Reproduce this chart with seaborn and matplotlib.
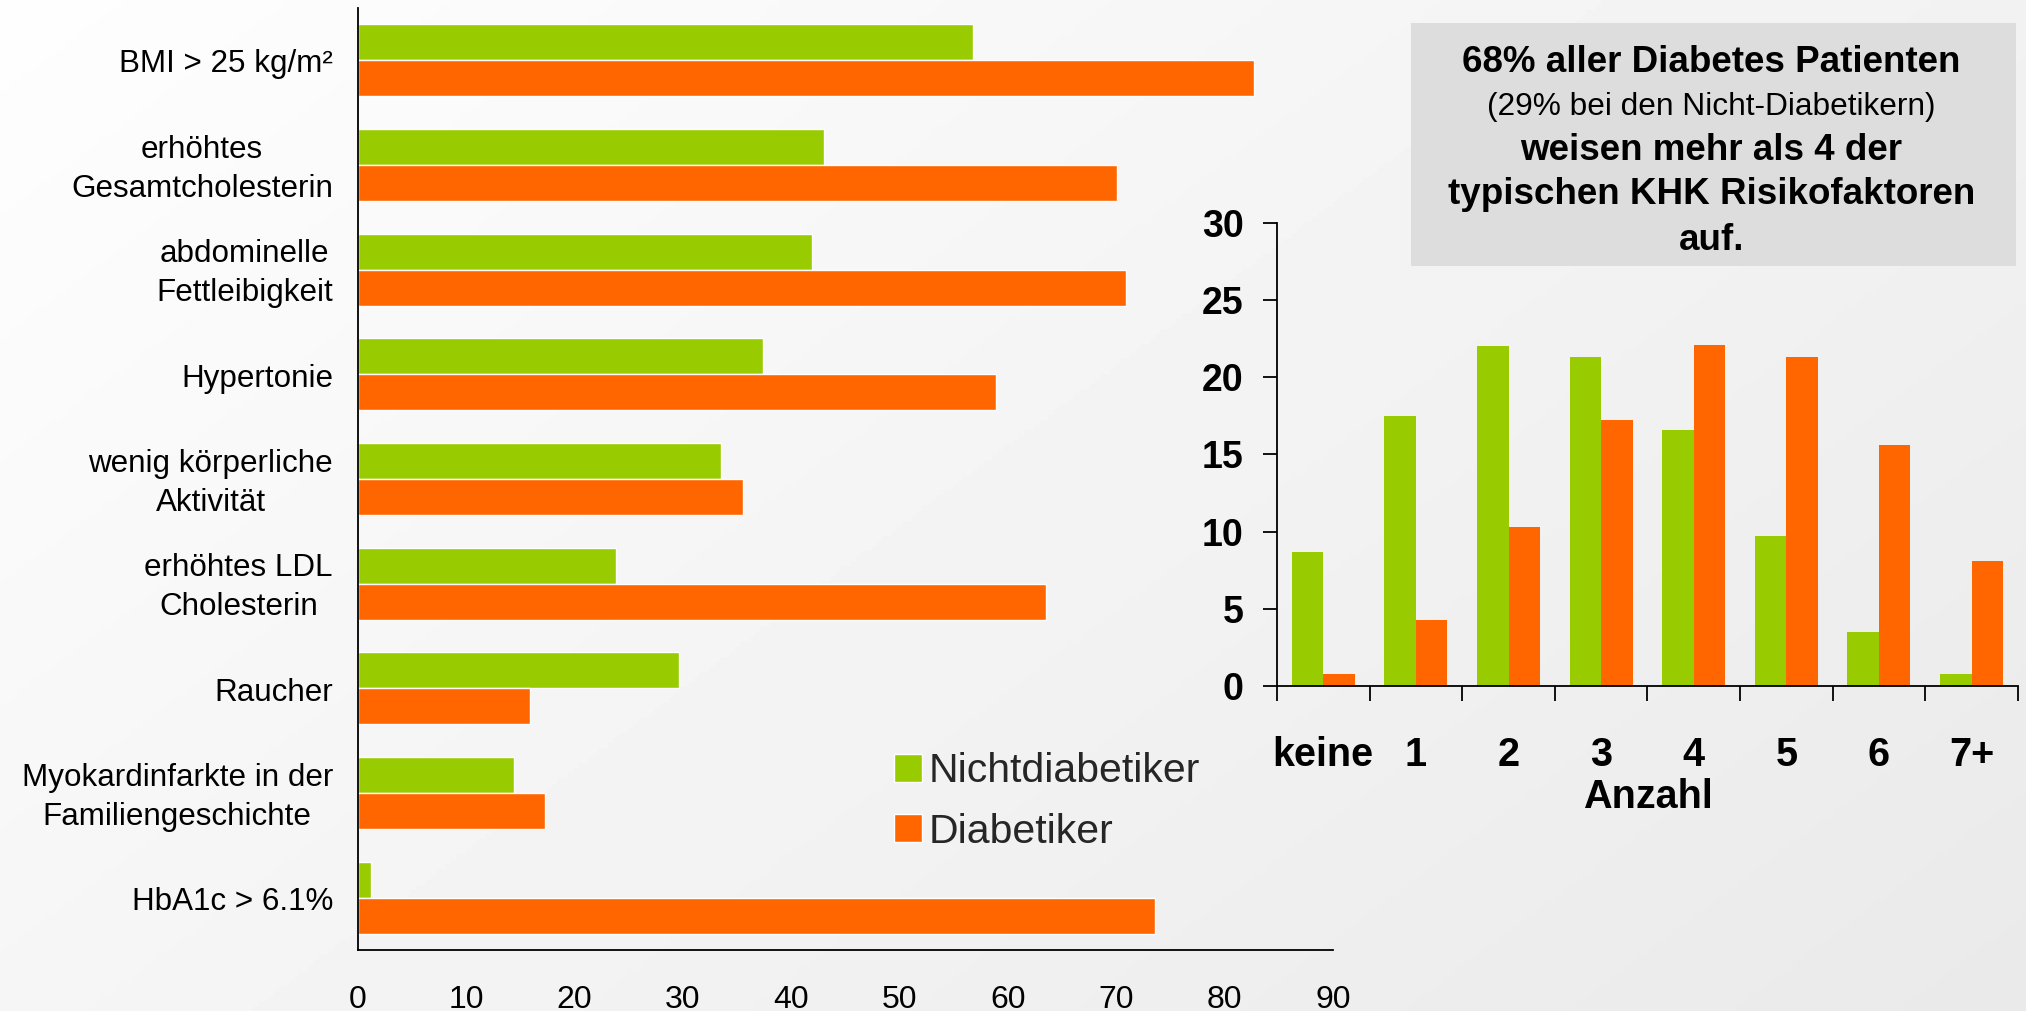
import matplotlib.pyplot as plt
import matplotlib.patches as mpatches
import matplotlib.transforms as mtransforms
import numpy as np
import pandas as pd
import seaborn as sns

sns.set_theme(style="white")
plt.rcParams["font.family"] = ["Liberation Sans", "DejaVu Sans"]

GREEN = "#99CC00"
ORANGE = "#FF6600"

groups = ["Nichtdiabetiker", "Diabetiker"]

# Risikofaktoren, Anteil in %
factors = [
    "BMI > 25 kg/m²",
    "erhöhtes\nGesamtcholesterin",
    "abdominelle\nFettleibigkeit",
    "Hypertonie",
    "wenig körperliche\nAktivität",
    "erhöhtes LDL\nCholesterin",
    "Raucher",
    "Myokardinfarkte in der\nFamiliengeschichte",
    "HbA1c > 6.1%",
]
risk_nicht = [56.8, 43.0, 41.9, 37.4, 33.5, 23.8, 29.6, 14.4, 1.2]
risk_diab = [82.7, 70.1, 70.9, 58.9, 35.5, 63.5, 15.9, 17.3, 73.6]

# Anzahl der Risikofaktoren, Anteil in %
anzahl = ["keine", "1", "2", "3", "4", "5", "6", "7+"]
anzahl_nicht = [8.7, 17.5, 22.0, 21.3, 16.6, 9.7, 3.5, 0.8]
anzahl_diab = [0.75, 4.3, 10.3, 17.2, 22.1, 21.3, 15.6, 8.1]

box_lines = [
    ("68% aller Diabetes Patienten", "bold", 26.5),
    ("(29% bei den Nicht-Diabetikern)", "normal", 22.8),
    ("weisen mehr als 4 der", "bold", 26.5),
    ("typischen KHK Risikofaktoren", "bold", 26.5),
    ("auf.", "bold", 26.5),
]

df_risk = pd.DataFrame({
    "Faktor": factors * 2,
    "Wert": risk_nicht + risk_diab,
    "Gruppe": [groups[0]] * len(factors) + [groups[1]] * len(factors),
})
df_count = pd.DataFrame({
    "Anzahl": anzahl * 2,
    "Wert": anzahl_nicht + anzahl_diab,
    "Gruppe": [groups[0]] * len(anzahl) + [groups[1]] * len(anzahl),
})

fig = plt.figure(figsize=(20.26, 10.11), dpi=100)

# heller diagonaler Hintergrundverlauf
bg = fig.add_axes([0, 0, 1, 1], zorder=-10)
xx, yy = np.meshgrid(np.linspace(0, 1, 400), np.linspace(0, 1, 200))
bg.imshow(0.995 - 0.08 * (0.6 * xx + 0.4 * yy), cmap="gray", vmin=0, vmax=1,
          aspect="auto", extent=[0, 1, 0, 1], origin="upper")
bg.axis("off")

# Hauptdiagramm: Risikofaktoren
ax = fig.add_axes([0.1767, 0.0603, 0.4812, 0.9318])
ax.patch.set_alpha(0)
sns.barplot(data=df_risk, x="Wert", y="Faktor", hue="Gruppe", order=factors,
            hue_order=groups, palette=[GREEN, ORANGE], saturation=1, width=0.69,
            orient="h", errorbar=None, edgecolor="white", linewidth=1, ax=ax)
handles, labels = ax.get_legend_handles_labels()
ax.get_legend().remove()
ax.set_xlim(0, 90)
ax.set_xticks(range(0, 91, 10))
ax.set_xlabel("")
ax.set_ylabel("")
ax.tick_params(axis="x", length=0, pad=25, labelsize=23, labelcolor="black")
ax.tick_params(axis="y", length=0, pad=18, labelsize=22.6, labelcolor="black")
shift_down = mtransforms.ScaledTranslation(0, -3 / 72, fig.dpi_scale_trans)
for tick in ax.yaxis.get_major_ticks():
    lbl = tick.label1
    lbl.set_multialignment("center")
    lbl.set_linespacing(1.38)
    lbl.set_verticalalignment("center")
    lbl.set_transform(lbl.get_transform() + shift_down)
for s in ["top", "right"]:
    ax.spines[s].set_visible(False)
for s in ["left", "bottom"]:
    ax.spines[s].set_color("black")
    ax.spines[s].set_linewidth(1.3)

fig.legend(handles, labels, loc="upper left", bbox_to_anchor=(0.4413, 0.256),
           frameon=False, fontsize=29.5, borderpad=0, borderaxespad=0,
           handlelength=0.68, handleheight=0.68, handletextpad=0.16,
           labelspacing=0.55)

# Nebendiagramm: Anzahl der Risikofaktoren
ax2 = fig.add_axes([0.6303, 0.3215, 0.3657, 0.4583])
ax2.patch.set_alpha(0)
sns.barplot(data=df_count, x="Anzahl", y="Wert", hue="Gruppe", order=anzahl,
            hue_order=groups, palette=[GREEN, ORANGE], saturation=1, width=0.68,
            errorbar=None, legend=False, linewidth=0, ax=ax2)
ax2.set_ylim(0, 30)
ax2.set_xlim(-0.5, 7.5)
ax2.set_yticks(range(0, 31, 5))
ax2.set_xticks(np.arange(-0.5, 8, 1), minor=True)
ax2.tick_params(axis="x", which="major", bottom=True, length=0, pad=36,
                labelsize=28.5, labelcolor="black")
ax2.tick_params(axis="x", which="minor", bottom=True, length=10.5, width=1.3,
                direction="out", color="black")
ax2.tick_params(axis="y", left=True, length=10, width=1.3, direction="out",
                pad=14, labelsize=27, color="black", labelcolor="black")
for lbl in ax2.get_xticklabels() + ax2.get_yticklabels():
    lbl.set_fontweight("bold")
ax2.set_xlabel("Anzahl", fontsize=28.5, fontweight="bold", labelpad=3, color="black")
ax2.set_ylabel("")
for s in ["top", "right"]:
    ax2.spines[s].set_visible(False)
for s in ["left", "bottom"]:
    ax2.spines[s].set_color("black")
    ax2.spines[s].set_linewidth(1.3)

# Textkasten
fig.add_artist(mpatches.Rectangle((0.6964, 0.7369), 0.2987, 0.2404,
                                  transform=fig.transFigure, facecolor="#DDDDDD",
                                  edgecolor="none", zorder=0.5))
for (txt, weight, size), ypx in zip(box_lines, [62, 107, 150, 194, 240]):
    fig.text(0.8447, 1 - ypx / 1011, txt, ha="center", va="center",
             fontsize=size, fontweight=weight, color="black", zorder=1)

fig.savefig("out.png", dpi=100)
